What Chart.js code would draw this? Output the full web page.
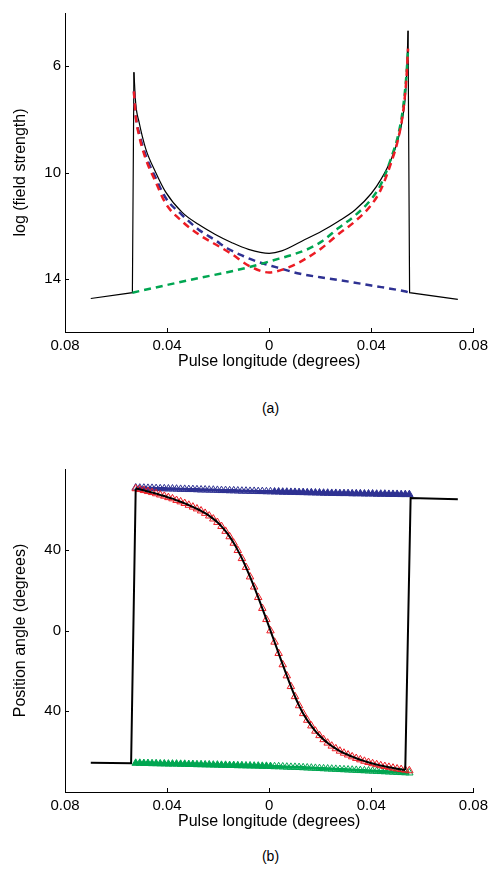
<!DOCTYPE html>
<html>
<head>
<meta charset="utf-8">
<script src="https://cdn.jsdelivr.net/npm/chart.js@4.4.1/dist/chart.umd.min.js"></script>
<style>
  body { margin: 0; background: #fff; width: 493px; height: 872px; position: relative; overflow: hidden; }
  canvas { position: absolute; left: 0; }
  #chartA { top: 0; }
  #chartB { top: 440px; }
  .panel { position: absolute; left: 0; width: 541px; text-align: center; font: 14px "Liberation Sans", Arial, sans-serif; color: #000; }
</style>
</head>
<body>
<canvas id="chartA" width="493" height="380"></canvas>
<canvas id="chartB" width="493" height="400"></canvas>
<div class="panel" style="top:400px">(a)</div>
<div class="panel" style="top:848px">(b)</div>
<script>
// shared axis ticks (labels are printed without sign, as in the figure)
var xTickValues = [-0.08, -0.04, 0, 0.04, 0.08]
var xTickLabels = ['0.08', '0.04', '0', '0.04', '0.08']
var yTickValuesA = [6, 10, 14]
var yTickLabelsA = ['6', '10', '14']
var yTickValuesB = [40, 0, -40]
var yTickLabelsB = ['40', '0', '40']

// (a) log field strength
var blackLonA = [-0.0699, -0.0536, -0.0530, -0.0523, -0.0510, -0.0484, -0.0445, -0.0406, -0.0341, -0.0276, -0.0211, -0.0146, -0.0081, 0, 0.0049, 0.014, 0.0205, 0.027, 0.0336, 0.040, 0.0439, 0.0478, 0.0505, 0.0524, 0.0537, 0.0544, 0.0550, 0.0739]
var blackLogA = [14.74, 14.52, 6.23, 7.4, 8.1, 9.1, 9.99, 10.73, 11.5, 11.96, 12.33, 12.64, 12.89, 13.04, 12.95, 12.52, 12.21, 11.84, 11.41, 10.79, 10.24, 9.5, 8.75, 7.88, 6.64, 4.67, 14.52, 14.77]
var redLonA = [-0.0530, -0.0523, -0.0510, -0.0484, -0.0445, -0.0406, -0.0341, -0.0276, -0.0211, -0.0146, -0.0081, 0, 0.0075, 0.014, 0.0205, 0.027, 0.0336, 0.040, 0.0439, 0.0478, 0.0505, 0.0524, 0.0537, 0.0544]
var redLogA = [6.95, 7.88, 8.6, 9.48, 10.35, 11.16, 11.84, 12.33, 12.7, 13.07, 13.5, 13.76, 13.57, 13.26, 12.85, 12.33, 11.84, 11.22, 10.61, 9.62, 8.75, 7.76, 6.52, 5.34]
var blueLonA = [-0.0530, -0.0523, -0.0510, -0.0484, -0.0445, -0.0406, -0.0341, -0.0276, -0.0211, -0.0165, -0.0100, -0.0048, 0.003, 0.0121, 0.020, 0.027, 0.040, 0.0530, 0.0550]
var blueLogA = [6.95, 7.85, 8.5, 9.35, 10.2, 10.95, 11.6, 12.15, 12.55, 12.85, 13.15, 13.35, 13.57, 13.81, 13.94, 14.04, 14.25, 14.47, 14.52]
var greenLonA = [-0.0536, -0.040, -0.027, -0.0178, -0.0113, -0.0048, 0.0017, 0.0082, 0.0147, 0.0205, 0.027, 0.0336, 0.040, 0.0439, 0.0478, 0.0505, 0.0524, 0.0537, 0.0544]
var greenLogA = [14.52, 14.23, 13.96, 13.78, 13.64, 13.48, 13.3, 13.12, 12.9, 12.6, 12.1, 11.62, 11.0, 10.42, 9.45, 8.6, 7.6, 6.4, 5.4]

// (b) position angle: model points (triangles) on a common longitude grid
var triLon = [-0.0523, -0.0507, -0.0491, -0.0475, -0.0459, -0.0443, -0.0427, -0.0411, -0.0395, -0.0379,
  -0.0363, -0.0347, -0.0331, -0.0315, -0.0299, -0.0283, -0.0267, -0.0251, -0.0235, -0.0219,
  -0.0203, -0.0187, -0.0171, -0.0155, -0.0139, -0.0123, -0.0107, -0.0091, -0.0075, -0.0059,
  -0.0043, -0.0027, -0.0011, 0.0005, 0.0021, 0.0037, 0.0053, 0.0069, 0.0085, 0.0101,
  0.0117, 0.0133, 0.0149, 0.0165, 0.0181, 0.0197, 0.0213, 0.0229, 0.0245, 0.0261,
  0.0277, 0.0293, 0.0309, 0.0325, 0.0341, 0.0357, 0.0373, 0.0389, 0.0405, 0.0421,
  0.0437, 0.0453, 0.0469, 0.0485, 0.0501, 0.0517, 0.0533, 0.0549]
var redPa = [70.3, 69.9, 69.4, 68.9, 68.4, 67.8, 67.2, 66.6, 65.9, 65.3,
  64.5, 63.8, 63.0, 62.1, 61.2, 60.3, 59.3, 58.1, 56.8, 55.3,
  53.6, 51.6, 49.2, 46.5, 43.3, 39.7, 35.7, 31.3, 26.6, 21.6,
  16.4, 11.0, 5.5, -0.1, -5.7, -11.3, -16.9, -22.4, -27.7, -32.7,
  -37.2, -41.1, -44.4, -47.2, -49.8, -52.0, -54.0, -55.7, -57.2, -58.5,
  -59.7, -60.7, -61.6, -62.5, -63.3, -64.0, -64.7, -65.3, -65.9, -66.4,
  -66.9, -67.3, -67.7, -68.1, -68.5, -68.8, -69.1, -69.4]
var bluePa = [70.7, 70.6, 70.6, 70.5, 70.5, 70.4, 70.3, 70.3, 70.2, 70.2,
  70.1, 70.0, 70.0, 69.9, 69.9, 69.8, 69.7, 69.7, 69.6, 69.6,
  69.5, 69.4, 69.4, 69.3, 69.3, 69.2, 69.1, 69.1, 69.0, 69.0,
  68.9, 68.9, 68.8, 68.8, 68.7, 68.7, 68.6, 68.6, 68.5, 68.5,
  68.4, 68.4, 68.3, 68.3, 68.2, 68.2, 68.1, 68.1, 68.0, 68.0,
  67.9, 67.9, 67.9, 67.8, 67.8, 67.8, 67.7, 67.7, 67.7, 67.6,
  67.6, 67.6, 67.5, 67.5, 67.5, 67.4, 67.4, 67.4]
var greenPa = [-65.7, -65.7, -65.8, -65.8, -65.9, -65.9, -66.0, -66.0, -66.1, -66.1,
  -66.1, -66.2, -66.2, -66.3, -66.3, -66.4, -66.4, -66.5, -66.5, -66.6,
  -66.6, -66.7, -66.7, -66.8, -66.8, -66.9, -66.9, -67.0, -67.0, -67.1,
  -67.1, -67.2, -67.2, -67.3, -67.4, -67.4, -67.5, -67.6, -67.7, -67.7,
  -67.8, -67.9, -68.0, -68.1, -68.2, -68.3, -68.4, -68.5, -68.6, -68.7,
  -68.8, -68.9, -69.0, -69.1, -69.2, -69.3, -69.4, -69.5, -69.6, -69.7,
  -69.8, -69.9, -70.0, -70.1, -70.2, -70.3, -70.4, -70.5]
var splitLon = 0.001

// black observed PA: the flat parts and jumps outside the model curve
var blackLonL = [-0.0699, -0.0541, -0.0523]
var blackPaL = [-65.5, -65.8, 70.3]
var blackLonR = [0.0533, 0.0554, 0.0739]
var blackPaR = [-69.1, 65.6, 65.0]

var RED = '#ec1c24', BLUE = '#2e3192', GREEN = '#00a651', NONE = 'rgba(0,0,0,0)'

Chart.defaults.font.family = '"Liberation Sans", Arial, sans-serif'
Chart.defaults.color = '#000'

function pts(xs, ys) {
  return xs.map(function(x, i) { return { x: x, y: ys[i] } })
}

// small inward tick marks on both axes
var tickMarks = {
  id: 'tickMarks',
  afterDraw: function(chart) {
    var ctx = chart.ctx, a = chart.chartArea
    var xs = chart.scales.x, ys = chart.scales.y
    ctx.save()
    ctx.strokeStyle = '#000'
    ctx.lineWidth = 1
    ctx.beginPath()
    xs.ticks.forEach(function(t) {
      var px = Math.round(xs.getPixelForValue(t.value)) + 0.5
      ctx.moveTo(px, a.bottom)
      ctx.lineTo(px, a.bottom - 4)
    })
    ys.ticks.forEach(function(t) {
      var py = Math.round(ys.getPixelForValue(t.value)) + 0.5
      ctx.moveTo(a.left, py)
      ctx.lineTo(a.left + 4, py)
    })
    ctx.stroke()
    ctx.restore()
  }
}

function BuildChart(id, datasets, yOpts, padTop, xTitle, yTitle) {
  var ctx = document.getElementById(id).getContext('2d')
  return new Chart(ctx, {
    type: 'scatter',
    data: { datasets: datasets },
    plugins: [tickMarks],
    options: {
      responsive: false,
      animation: false,
      layout: { padding: { top: padTop, right: 18, left: 0, bottom: 0 } },
      plugins: { legend: { display: false }, tooltip: { enabled: false } },
      scales: {
        x: {
          type: 'linear', min: -0.08, max: 0.08,
          grid: { display: false, drawTicks: false },
          border: { display: true, color: '#000', width: 1 },
          afterBuildTicks: function(s) { s.ticks = xTickValues.map(function(v) { return { value: v } }) },
          afterFit: function(s) { s.height = 48 },
          ticks: { font: { size: 15 }, padding: 5, maxRotation: 0, callback: function(v, i) { return xTickLabels[i] } },
          title: { display: true, text: xTitle, font: { size: 16 }, padding: { top: 0, bottom: 9 } }
        },
        y: {
          type: 'linear', min: yOpts.min, max: yOpts.max, reverse: yOpts.reverse,
          grid: { display: false, drawTicks: false },
          border: { display: true, color: '#000', width: 1 },
          afterBuildTicks: function(s) { s.ticks = yOpts.values.map(function(v) { return { value: v } }) },
          afterFit: function(s) { s.width = 65 },
          ticks: { font: { size: 15 }, padding: 4, callback: function(v, i) { return yOpts.labels[i] } },
          title: { display: true, text: yTitle, font: { size: 16 }, padding: { top: 11, bottom: 0 } }
        }
      }
    }
  })
}

function solid(xs, ys, width, smooth) {
  var d = { data: pts(xs, ys), showLine: true, borderColor: '#000', borderWidth: width, pointRadius: 0, tension: 0 }
  if (smooth) d.cubicInterpolationMode = 'monotone'
  return d
}

// black line in (a): straight jumps at the edges, smooth in between
function blackPartsA() {
  return [
    solid(blackLonA.slice(0, 3), blackLogA.slice(0, 3), 1.2, false),
    solid(blackLonA.slice(2, 26), blackLogA.slice(2, 26), 1.2, true),
    solid(blackLonA.slice(25), blackLogA.slice(25), 1.2, false)
  ]
}

function dashed(xs, ys, color) {
  return { data: pts(xs, ys), showLine: true, borderColor: color, borderWidth: 2.5, borderDash: [7, 5],
    pointRadius: 0, cubicInterpolationMode: 'monotone' }
}

BuildChart('chartA', [
  dashed(redLonA, redLogA, RED),
  dashed(greenLonA, greenLogA, GREEN),
  dashed(blueLonA, blueLogA, BLUE)
].concat(blackPartsA()),
  { min: 4, max: 16, reverse: true, values: yTickValuesA, labels: yTickLabelsA }, 9,
  'Pulse longitude (degrees)', 'log (field strength)')

function triSet(ys, color, filledRight, line) {
  return {
    data: pts(triLon, ys), showLine: line, borderColor: color, borderWidth: 3,
    pointStyle: 'triangle', pointRadius: 4.3, pointBorderWidth: 1, pointBorderColor: color,
    pointBackgroundColor: function(c) {
      if (!c.raw || filledRight === null) return NONE
      return (c.raw.x > splitLon) === filledRight ? color : NONE
    }
  }
}

BuildChart('chartB', [
  solid(blackLonL, blackPaL, 2, false),
  solid(triLon.slice(0, 67), redPa.slice(0, 67), 2, true),
  solid(blackLonR, blackPaR, 2, false),
  triSet(redPa, RED, null, false),
  triSet(bluePa, BLUE, true, true),
  triSet(greenPa, GREEN, false, true)
], { min: -80, max: 80, reverse: false, values: yTickValuesB, labels: yTickLabelsB }, 29,
  'Pulse longitude (degrees)', 'Position angle (degrees)')
</script>
</body>
</html>
